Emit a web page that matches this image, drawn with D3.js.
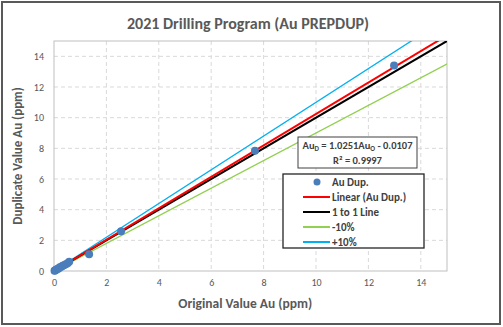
<!DOCTYPE html>
<html>
<head>
<meta charset="utf-8">
<script src="https://cdnjs.cloudflare.com/ajax/libs/d3/7.8.5/d3.min.js"></script>
<style>
  body { margin: 0; background: #fff; }
  text { font-family: Calibri, Carlito, "Open Sans", "Liberation Sans", sans-serif; }
</style>
</head>
<body>
<svg id="chart"></svg>
<script>
// data
const origVals = [0.02, 0.04, 0.06, 0.1, 0.14, 0.18, 0.22, 0.28, 0.33, 0.38, 0.45, 0.52, 0.58, 1.34, 2.56, 7.67, 12.98];
const dupVals  = [0.02, 0.03, 0.07, 0.09, 0.15, 0.17, 0.24, 0.27, 0.35, 0.38, 0.44, 0.50, 0.60, 1.10, 2.60, 7.84, 13.40];
const xTicks = [0, 2, 4, 6, 8, 10, 12, 14];
const yTicks = [0, 2, 4, 6, 8, 10, 12, 14];
const fitSlope = 1.0251, fitIntercept = -0.0107;
const refLines = [
  { name: "Linear (Au Dup.)", color: "#ff0000", f: x => fitSlope * x + fitIntercept, w: 2 },
  { name: "1 to 1 Line", color: "#000000", f: x => x, w: 2 },
  { name: "-10%", color: "#92d050", f: x => 0.9 * x, w: 1.3 },
  { name: "+10%", color: "#00b0f0", f: x => 1.1 * x, w: 1.3 }
];

const W = 503, H = 327;
const margin = { top: 41, right: 56, bottom: 56, left: 54 };
const width = W - margin.left - margin.right;
const height = H - margin.top - margin.bottom;

const svg = d3.select("#chart").attr("width", W).attr("height", H);

// outer frame
svg.append("rect")
  .attr("x", 2).attr("y", 2).attr("width", W - 5).attr("height", H - 5)
  .attr("fill", "#fff").attr("stroke", "#595959").attr("stroke-width", 2);

svg.append("text")
  .attr("x", 248).attr("y", 29)
  .attr("text-anchor", "middle")
  .style("font-size", "16px").style("font-weight", "bold").style("fill", "#595959")
  .text("2021 Drilling Program (Au PREPDUP)");

const g = svg.append("g").attr("transform", `translate(${margin.left},${margin.top})`);

const xScale = d3.scaleLinear().domain([0, 15]).range([0, width]);
const yScale = d3.scaleLinear().domain([0, 15]).range([height, 0]);

// grid
g.selectAll(".vgrid").data(xTicks.filter(d => d > 0)).enter().append("line")
  .attr("x1", d => xScale(d)).attr("x2", d => xScale(d))
  .attr("y1", 0).attr("y2", height)
  .attr("stroke", "#d9d9d9").attr("stroke-dasharray", "4,3");
g.selectAll(".hgrid").data(yTicks.filter(d => d > 0)).enter().append("line")
  .attr("y1", d => yScale(d)).attr("y2", d => yScale(d))
  .attr("x1", 0).attr("x2", width)
  .attr("stroke", "#d9d9d9").attr("stroke-dasharray", "4,3");

g.append("rect").attr("width", width).attr("height", height)
  .attr("fill", "none").attr("stroke", "#bfbfbf");

// axes
const xAxis = g.append("g").attr("transform", `translate(0,${height})`)
  .call(d3.axisBottom(xScale).tickValues(xTicks).tickSize(0).tickPadding(8));
const yAxis = g.append("g")
  .call(d3.axisLeft(yScale).tickValues(yTicks).tickSize(0).tickPadding(10));
[xAxis, yAxis].forEach(a => {
  a.select(".domain").remove();
  a.selectAll("text").style("font-size", "10px").style("fill", "#595959")
    .style("font-family", "Calibri, Carlito, 'Open Sans', sans-serif");
});

svg.append("text")
  .attr("x", margin.left + xScale(7.3)).attr("y", 308)
  .attr("text-anchor", "middle")
  .style("font-size", "13.5px").style("font-weight", "bold").style("fill", "#595959")
  .text("Original Value Au (ppm)");

svg.append("text")
  .attr("transform", `translate(22,${margin.top + height / 2}) rotate(-90)`)
  .attr("text-anchor", "middle")
  .style("font-size", "13px").style("font-weight", "bold").style("fill", "#595959")
  .text("Duplicate Value Au (ppm)");

// clip for lines
svg.append("clipPath").attr("id", "plotclip")
  .append("rect").attr("width", width).attr("height", height);

const lineGen = d3.line().x(d => xScale(d[0])).y(d => yScale(d[1]));
const lg = g.append("g").attr("clip-path", "url(#plotclip)");

// points
g.selectAll(".pt").data(origVals).enter().append("circle")
  .attr("cx", (d, i) => xScale(d))
  .attr("cy", (d, i) => yScale(dupVals[i]))
  .attr("r", 4)
  .attr("fill", "#4a7ebb");

// draw order: green, blue, black, red on top
[2, 3, 1, 0].forEach(k => {
  const L = refLines[k];
  const xs = [0, 16];
  lg.append("path")
    .datum(xs.map(x => [x, L.f(x)]))
    .attr("d", lineGen)
    .attr("fill", "none")
    .attr("stroke", L.color)
    .attr("stroke-width", L.w);
});

// equation box
const eq = svg.append("g");
eq.append("rect").attr("x", 298).attr("y", 137).attr("width", 119).attr("height", 31)
  .attr("fill", "#fff").attr("stroke", "#404040").attr("stroke-width", 1);
const t1 = eq.append("text").attr("x", 357.5).attr("y", 149).attr("text-anchor", "middle")
  .style("font-size", "10.5px").style("font-weight", "bold").style("fill", "#404040");
t1.append("tspan").text("Au");
t1.append("tspan").attr("dy", 2).style("font-size", "7px").text("D");
t1.append("tspan").attr("dy", -2).text(` = ${fitSlope}Au`);
t1.append("tspan").attr("dy", 2).style("font-size", "7px").text("O");
t1.append("tspan").attr("dy", -2).text(` - ${Math.abs(fitIntercept)}`);
eq.append("text").attr("x", 357.5).attr("y", 164).attr("text-anchor", "middle")
  .style("font-size", "10.5px").style("font-weight", "bold").style("fill", "#404040")
  .text("R² = 0.9997");

// legend
const leg = svg.append("g");
leg.append("rect").attr("x", 283).attr("y", 174).attr("width", 141).attr("height", 74)
  .attr("fill", "#fff").attr("stroke", "#262626").attr("stroke-width", 1.3);
const legRows = [{ name: "Au Dup.", type: "pt" }].concat(refLines.map(l => ({ name: l.name, type: "line", color: l.color })));
legRows.forEach((r, i) => {
  const y = 182 + i * 15;
  if (r.type === "pt") {
    leg.append("circle").attr("cx", 317).attr("cy", y).attr("r", 3.5).attr("fill", "#4a7ebb");
  } else {
    leg.append("line").attr("x1", 303).attr("x2", 330).attr("y1", y).attr("y2", y)
      .attr("stroke", r.color).attr("stroke-width", 2);
  }
  leg.append("text").attr("x", 332).attr("y", y + 4)
    .style("font-size", "11px").style("font-weight", "bold").style("fill", "#404040")
    .text(r.name);
});
</script>
</body>
</html>
